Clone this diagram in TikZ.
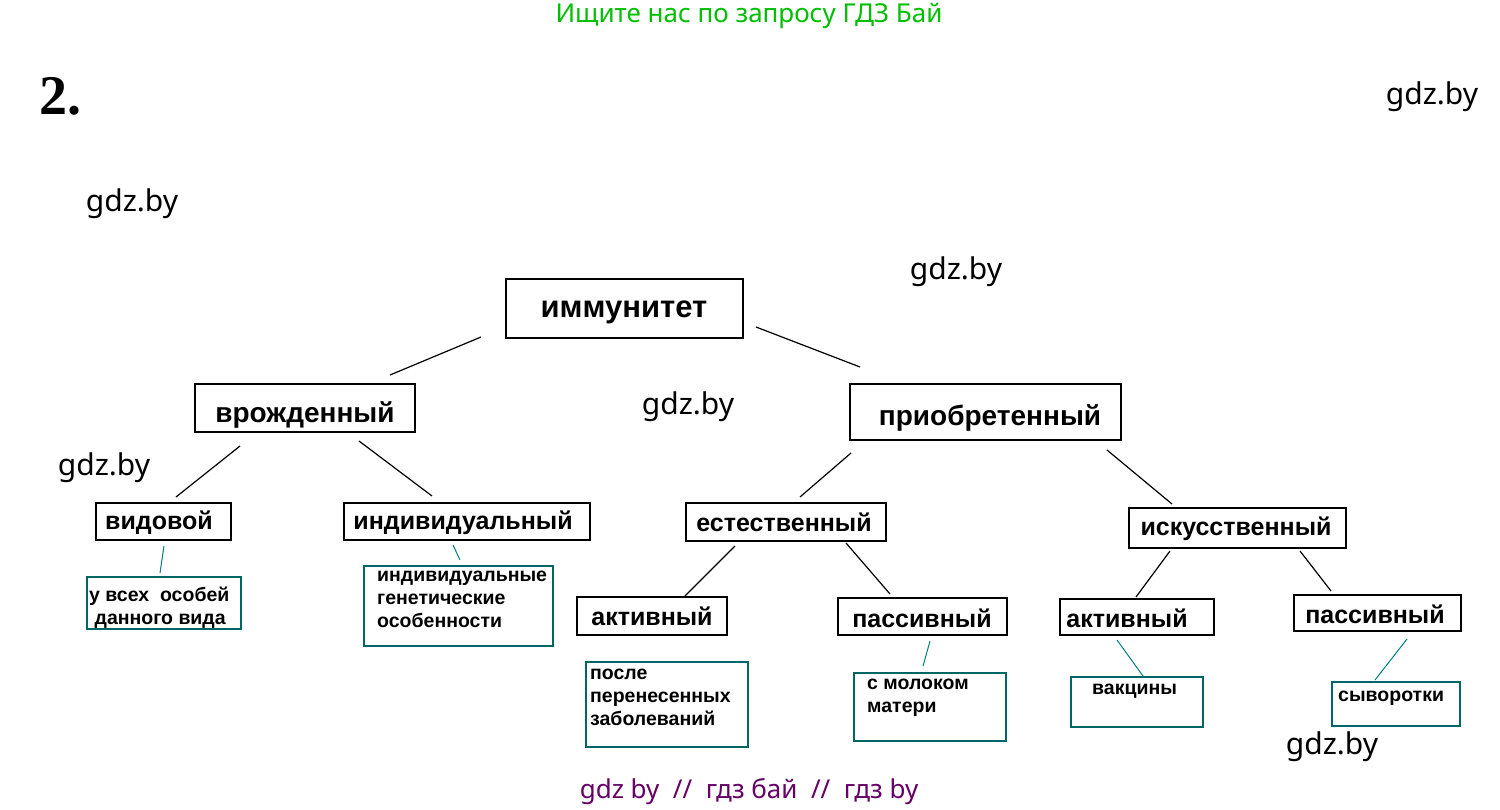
\documentclass[tikz,border=0pt]{standalone}
\usepackage{fontspec}
\setmainfont{Liberation Sans}
\newfontfamily\wm{Noto Sans}
\newfontfamily\sr{Liberation Serif}
\begin{document}
\begin{tikzpicture}[x=1pt,y=-1pt,
 bx/.style={draw=black,line width=1.2pt},
 tb/.style={draw=teal!80!black,line width=2pt},
 lb/.style={font=\bfseries\fontsize{25}{27}\selectfont},
 tl/.style={font=\bfseries\fontsize{19.5}{23}\selectfont,align=left,anchor=north west,inner sep=1pt},
 ln/.style={line width=1.2pt},
 tln/.style={line width=1pt,draw=teal},
 wmk/.style={font=\wm\fontsize{30}{32}\selectfont}]
\useasboundingbox[fill=white] (0,0) rectangle (1500,809);
\node[font=\wm\fontsize{26}{28}\selectfont,text=green!75!black] (t) at (749,16) {Ищите нас по запросу ГДЗ Бай};
\node[font=\sr\bfseries\fontsize{56}{58}\selectfont] (n2) at (60,96) {2.};
\node[wmk] (w1) at (1432,97) {gdz.by};
\node[wmk] (w2) at (132,204) {gdz.by};
\node[wmk] (w3) at (956,272) {gdz.by};
\node[wmk] (w4) at (688,407) {gdz.by};
\node[wmk] (w5) at (104,468) {gdz.by};
\node[wmk] (w6) at (1332,747) {gdz.by};
\node[font=\wm\fontsize{26}{28}\selectfont,text=violet!80!black] (b) at (749,792) {gdz by \ // \ гдз бай \ // \ гдз by};
% boxes
\draw[bx] (506,279) rectangle (743,338); \node[font=\bfseries\fontsize{31}{33}\selectfont] (imm) at (624,312) {иммунитет};
\draw[bx] (195,384) rectangle (415,432); \node[font=\bfseries\fontsize{28}{30}\selectfont] (vr) at (305,415) {врожденный};
\draw[bx] (850,384) rectangle (1121,440); \node[font=\bfseries\fontsize{28}{30}\selectfont] (pr) at (990,418) {приобретенный};
\draw[bx] (96,503) rectangle (231,540); \node[lb] (vid) at (159,523) {видовой};
\draw[bx] (344,503) rectangle (590,540); \node[lb] (ind) at (463,523) {индивидуальный};
\draw[bx] (686,503) rectangle (886,541); \node[lb] (est) at (784,522) {естественный};
\draw[bx] (1129,508) rectangle (1346,548); \node[lb] (isk) at (1236,529) {искусственный};
\draw[bx] (577,597) rectangle (727,635); \node[lb] (a1) at (652,616) {активный};
\draw[bx] (838,598) rectangle (1007,635); \node[lb] (p1) at (922,618) {пассивный};
\draw[bx] (1060,599) rectangle (1214,635); \node[lb] (a2) at (1127,618) {активный};
\draw[bx] (1294,595) rectangle (1461,631); \node[lb] (p2) at (1375,614) {пассивный};
% teal boxes
\draw[tb] (87,577) rectangle (241,629); \node[tl] (t1) at (88,586) {у всех \ особей\\ \ данного вида};
\draw[tb] (364,566) rectangle (553,646); \node[tl] (t2) at (376,570) {индивидуальные\\генетические\\особенности};
\draw[tb] (586,662) rectangle (748,747); \node[tl] (t3) at (589,668) {после\\перенесенных\\заболеваний};
\draw[tb] (854,673) rectangle (1006,741); \node[tl] (t4) at (866,678) {с молоком\\матери};
\draw[tb] (1071,677) rectangle (1203,727); \node[tl] (t5) at (1091,683) {вакцины};
\draw[tb] (1332,682) rectangle (1460,726); \node[tl] (t6) at (1337,690) {сыворотки};
% connectors
\foreach \a/\b/\c/\d/\n in {481/337/390/375/a,756/327/860/367/b,240/446/176/497/c,359/441/432/496/d,851/453/800/497/e,1107/450/1172/504/f,735/546/685/596/g,846/543/890/594/h,1170/551/1136/597/i,1300/551/1331/591/j}{
 \coordinate (s\n) at (\a,\b); \coordinate (e\n) at (\c,\d); \draw[ln] (s\n) -- (e\n);}
\foreach \a/\b/\c/\d/\n in {164/546/160/573/k,453/545/460/560/l,930/641/923/666/m,1117/640/1143/676/o,1407/639/1375/680/p}{
 \coordinate (s\n) at (\a,\b); \coordinate (e\n) at (\c,\d); \draw[tln] (s\n) -- (e\n);}
\end{tikzpicture}
\end{document}
